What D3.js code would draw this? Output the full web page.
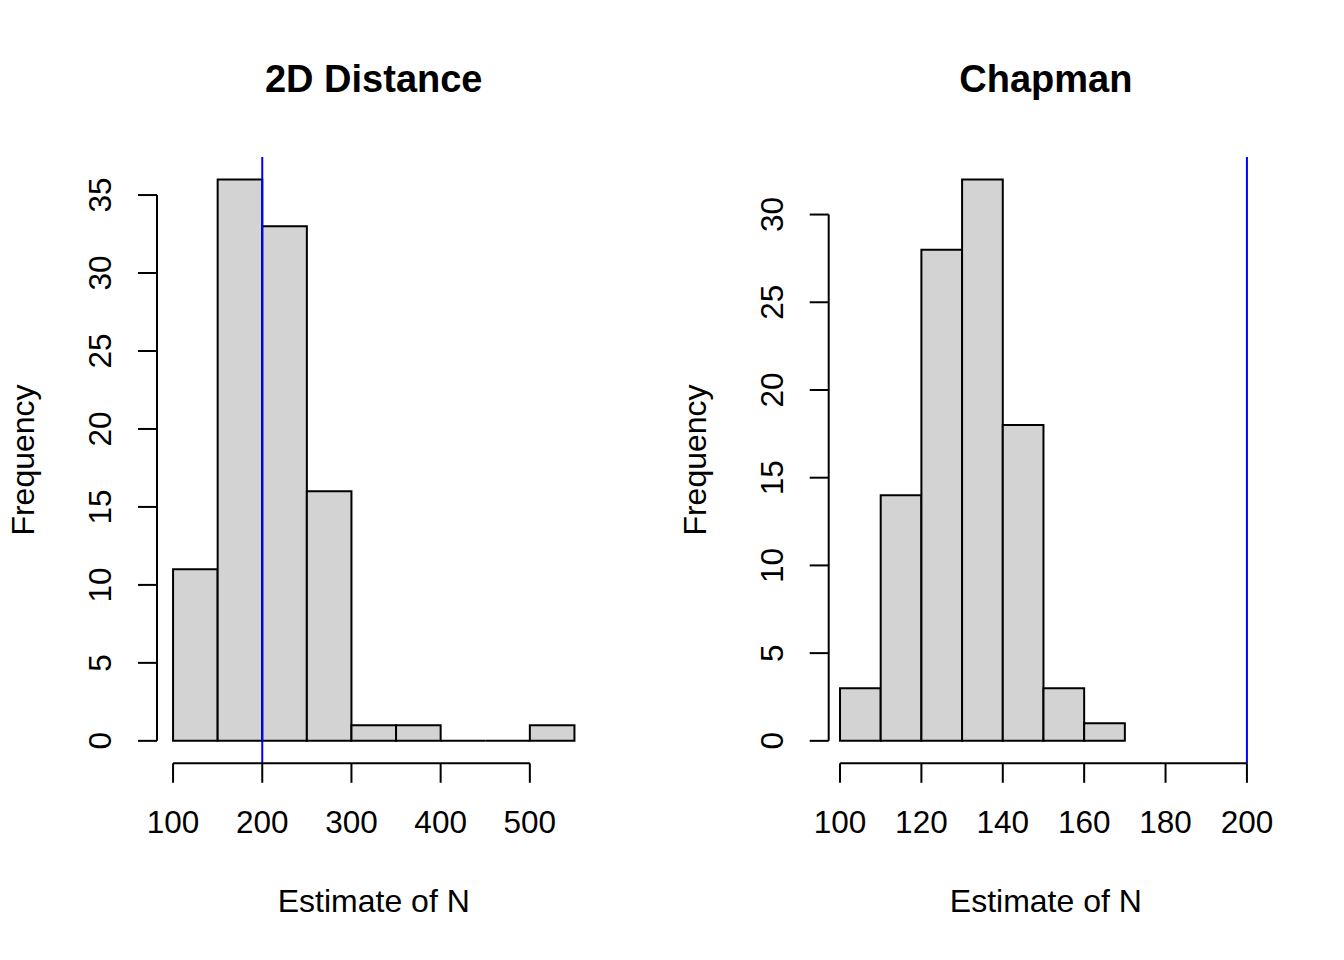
<!DOCTYPE html>
<html lang="en">

<head>
    <meta charset="UTF-8">
    <title>Histograms of N estimates</title>
    <script src="https://d3js.org/d3.v7.min.js"></script>
    <style>
        body { margin: 0; background: #fff; }
        svg { width: 1344px; height: 960px; display: block; }
        text { font-family: "Liberation Sans", Arial, sans-serif; fill: #000; }
    </style>
</head>

<body>
    <svg id="chart"></svg>

    <script>
        // data
        var distBreaks = [100, 150, 200, 250, 300, 350, 400, 450, 500, 550];
        var distCounts = [11, 36, 33, 16, 1, 1, 0, 0, 1];
        var distXTicks = [100, 200, 300, 400, 500];
        var distYTicks = [0, 5, 10, 15, 20, 25, 30, 35];

        var chapBreaks = [100, 110, 120, 130, 140, 150, 160, 170];
        var chapCounts = [3, 14, 28, 32, 18, 3, 1];
        var chapXTicks = [100, 120, 140, 160, 180, 200];
        var chapYTicks = [0, 5, 10, 15, 20, 25, 30];

        var trueN = 200;

        var svg = d3.select('#chart');

        // one histogram panel, R style
        function panel(opt) {
            var x = d3.scaleLinear().domain(opt.xDomain).range([opt.left, opt.right]);
            var y = d3.scaleLinear().domain(opt.yDomain).range([763.3, 157]);
            var g = svg.append('g');

            var bins = opt.counts.map(function(c, i) {
                return { x0: opt.breaks[i], x1: opt.breaks[i + 1], n: c };
            });

            // bars as closed paths so empty bins still show their base line
            g.selectAll('path.bar')
                .data(bins)
                .join('path')
                .attr('class', 'bar')
                .attr('d', function(d) {
                    var p = d3.path();
                    p.moveTo(x(d.x0), y(0));
                    p.lineTo(x(d.x0), y(d.n));
                    p.lineTo(x(d.x1), y(d.n));
                    p.lineTo(x(d.x1), y(0));
                    p.closePath();
                    return p.toString();
                })
                .attr('fill', '#d3d3d3')
                .attr('stroke', '#000')
                .attr('stroke-width', 2);

            // vertical reference line, clipped to plot region
            g.append('line')
                .attr('x1', x(trueN)).attr('x2', x(trueN))
                .attr('y1', 157).attr('y2', 763.3)
                .attr('stroke', '#0000ff')
                .attr('stroke-width', 2);

            // x axis
            var xa = g.append('g').attr('transform', 'translate(0,763.3)');
            xa.append('line')
                .attr('x1', x(opt.xTicks[0])).attr('x2', x(opt.xTicks[opt.xTicks.length - 1]))
                .attr('stroke', '#000').attr('stroke-width', 2);
            xa.selectAll('line.tick')
                .data(opt.xTicks)
                .join('line')
                .attr('class', 'tick')
                .attr('x1', d => x(d)).attr('x2', d => x(d))
                .attr('y1', 0).attr('y2', 19.5)
                .attr('stroke', '#000').attr('stroke-width', 2);
            xa.selectAll('text')
                .data(opt.xTicks)
                .join('text')
                .attr('x', d => x(d))
                .attr('y', 70)
                .attr('text-anchor', 'middle')
                .attr('font-size', 31.5)
                .text(d => d);

            // y axis
            var ya = g.append('g').attr('transform', `translate(${opt.left},0)`);
            ya.append('line')
                .attr('y1', y(opt.yTicks[0])).attr('y2', y(opt.yTicks[opt.yTicks.length - 1]))
                .attr('stroke', '#000').attr('stroke-width', 2);
            ya.selectAll('line.tick')
                .data(opt.yTicks)
                .join('line')
                .attr('class', 'tick')
                .attr('y1', d => y(d)).attr('y2', d => y(d))
                .attr('x1', 0).attr('x2', -19)
                .attr('stroke', '#000').attr('stroke-width', 2);
            ya.selectAll('text')
                .data(opt.yTicks)
                .join('text')
                .attr('transform', d => `translate(-46,${y(d)}) rotate(-90)`)
                .attr('text-anchor', 'middle')
                .attr('font-size', 31.5)
                .text(d => d);

            // titles
            var cx = (opt.left + opt.right) / 2;
            g.append('text')
                .attr('x', cx).attr('y', 92)
                .attr('text-anchor', 'middle')
                .attr('font-size', 38)
                .attr('font-weight', 'bold')
                .text(opt.title);
            g.append('text')
                .attr('x', cx).attr('y', 911.5)
                .attr('text-anchor', 'middle')
                .attr('font-size', 32)
                .text('Estimate of N');
            g.append('text')
                .attr('transform', `translate(${opt.left - 123},460) rotate(-90)`)
                .attr('text-anchor', 'middle')
                .attr('font-size', 32)
                .text('Frequency');
        }

        panel({
            title: '2D Distance',
            breaks: distBreaks, counts: distCounts,
            xTicks: distXTicks, yTicks: distYTicks,
            xDomain: [82, 568], left: 157, right: 590.5,
            yDomain: [-1.44, 37.44]
        });

        panel({
            title: 'Chapman',
            breaks: chapBreaks, counts: chapCounts,
            xTicks: chapXTicks, yTicks: chapYTicks,
            xDomain: [97.22, 203.95], left: 828.7, right: 1263,
            yDomain: [-1.28, 33.28]
        });
    </script>
</body>

</html>
